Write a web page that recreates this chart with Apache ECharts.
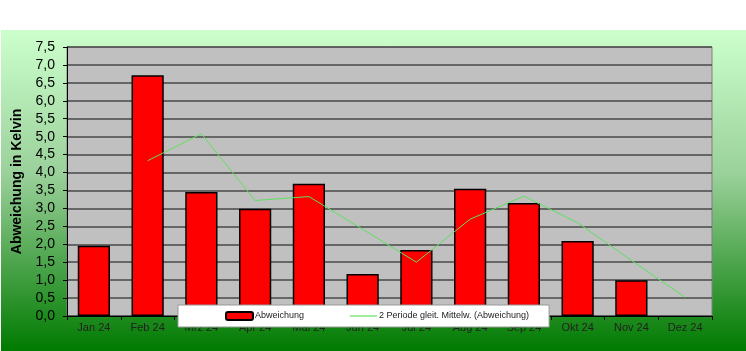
<!DOCTYPE html>
<html>
<head>
<meta charset="utf-8">
<script src="https://cdn.jsdelivr.net/npm/echarts@6/dist/echarts.min.js"></script>
<style>
  html, body { margin: 0; padding: 0; background: #fff; }
  #chart { width: 746px; height: 351px; }
</style>
</head>
<body>
<div id="chart"></div>
<script>
// Monate
const months = ['Jan 24', 'Feb 24', 'Mrz 24', 'Apr 24', 'Mai 24', 'Jun 24', 'Jul 24', 'Aug 24', 'Sep 24', 'Okt 24', 'Nov 24', 'Dez 24']
// Abweichung in Kelvin
const abweichung = [1.96, 6.71, 3.46, 2.99, 3.69, 1.17, 1.84, 3.55, 3.15, 2.09, 1.0, null]
// gleitender Mittelwert (2 Perioden)
const mittel = [null, 4.33, 5.08, 3.22, 3.33, 2.42, 1.5, 2.7, 3.34, 2.6, 1.55, 0.52]

const chart = echarts.init(document.getElementById('chart'))

const option = {
  animation: false,
  textStyle: { fontFamily: 'Liberation Sans, Arial, sans-serif' },
  graphic: [{
    type: 'rect',
    z: -10,
    silent: true,
    shape: { x: 1, y: 30, width: 745, height: 321 },
    style: {
      fill: new echarts.graphic.LinearGradient(0, 0, 0, 1, [
        { offset: 0, color: '#ccffcc' },
        { offset: 0.45, color: '#9ad09a' },
        { offset: 1, color: '#007a00' }
      ])
    }
  }],
  grid: {
    left: 67,
    right: 34,
    top: 47,
    bottom: 35,
    show: true,
    backgroundColor: '#c0c0c0',
    borderColor: '#808080',
    borderWidth: 1
  },
  legend: {
    left: 178,
    top: 305,
    padding: [6, 20, 6, 47],
    itemGap: 46,
    itemWidth: 27,
    itemHeight: 8,
    backgroundColor: '#fff',
    borderColor: '#999',
    borderWidth: 1,
    textStyle: { fontSize: 9, color: '#222', padding: [0, 0, 0, -3] },
    data: [
      { name: 'Abweichung' },
      { name: '2 Periode gleit. Mittelw. (Abweichung)', icon: 'path://M0,0 L27,0 L27,1.2 L0,1.2 Z' }
    ]
  },
  xAxis: {
    type: 'category',
    data: months,
    axisLine: { lineStyle: { color: '#000', width: 1 } },
    axisTick: { show: true, length: 4, lineStyle: { color: '#000' } },
    axisLabel: { fontSize: 11, color: '#222', margin: 6 }
  },
  yAxis: {
    type: 'value',
    min: 0,
    max: 7.5,
    interval: 0.5,
    name: 'Abweichung in Kelvin',
    nameLocation: 'middle',
    nameGap: 43,
    nameTextStyle: { fontSize: 14, fontWeight: 'bold', color: '#000' },
    axisLine: { show: true, lineStyle: { color: '#000', width: 1 } },
    axisTick: { show: true, length: 4, lineStyle: { color: '#000' } },
    axisLabel: {
      fontSize: 14,
      color: '#000',
      margin: 12,
      formatter: v => v.toFixed(1).replace('.', ',')
    },
    splitLine: { lineStyle: { color: '#484848', width: 1.5 } }
  },
  series: [{
    name: 'Abweichung',
    type: 'bar',
    data: abweichung,
    barWidth: '60%',
    itemStyle: { color: '#ff0000', borderColor: '#000', borderWidth: 1.5 }
  }, {
    name: '2 Periode gleit. Mittelw. (Abweichung)',
    type: 'line',
    data: mittel,
    symbol: 'none',
    itemStyle: { color: '#5fe05f' },
    lineStyle: { color: '#5fe05f', width: 1 }
  }]
}

chart.setOption(option)
</script>
</body>
</html>
